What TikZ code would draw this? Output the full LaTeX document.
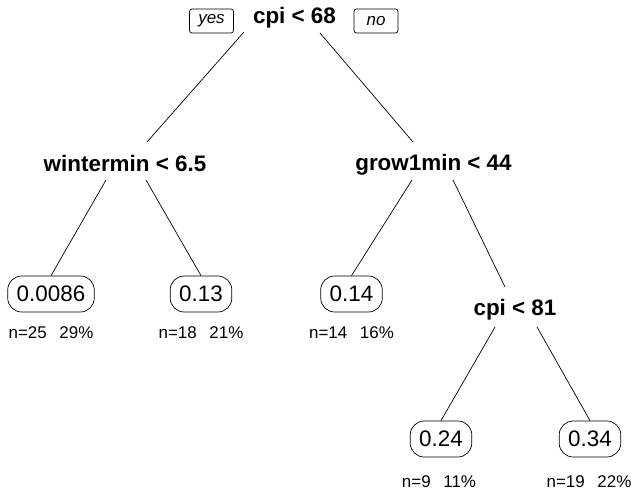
\documentclass[tikz,border=0pt]{standalone}
\usepackage{fontspec}
\setmainfont{Liberation Sans}
\usetikzlibrary{calc}

\begin{document}
\begin{tikzpicture}[x=1bp,y=-1bp,line width=0.7bp,
  split/.style={font=\fontsize{22.5}{24}\selectfont\bfseries,inner sep=0pt,anchor=base},
  leaf/.style={draw,rounded corners=14bp,font=\fontsize{22.5}{24}\selectfont,minimum height=36bp,inner xsep=9bp},
  info/.style={font=\fontsize{17}{20}\selectfont,inner sep=0pt,anchor=base},
  side/.style={draw,rounded corners=2.5bp,font=\fontsize{17}{20}\selectfont\itshape,minimum height=24bp,minimum width=44bp,inner sep=0pt}]
\useasboundingbox (0,0) rectangle (637,493);
% splits
\node[split] (root) at (294.5,24) {cpi < 68};
\node[side] (yes) at (211.5,21) {yes};
\node[side] (no) at (376,21) {no};
\node[split] (wmin) at (125,172) {wintermin < 6.5};
\node[split] (gmin) at (433.5,171) {grow1min < 44};
\node[split] (cpi81) at (515,315) {cpi < 81};
% leaves
\node[leaf] (l1) at (51,294) {0.0086};
\node[leaf] (l2) at (201,294) {0.13};
\node[leaf] (l3) at (351.5,294) {0.14};
\node[leaf] (l4) at (441,439) {0.24};
\node[leaf] (l5) at (590,439) {0.34};
\node[info] (n1) at (51,338) {n=25\hspace{0.75em}29\%};
\node[info] (n2) at (201,338) {n=18\hspace{0.75em}21\%};
\node[info] (n3) at (351.5,338) {n=14\hspace{0.75em}16\%};
\node[info] (n4) at (439,487) {n=9\hspace{0.75em}11\%};
\node[info] (n5) at (589,487) {n=19\hspace{0.75em}22\%};
% branches
\draw ($(root.base)+(-50.5,8)$) -- ($(wmin.base)+(22,-30)$);
\draw ($(root.base)+(25.5,9)$) -- ($(gmin.base)+(-20.5,-29)$);
\draw ($(wmin.base)+(-19,8)$) -- (l1.north);
\draw ($(wmin.base)+(21,8)$) -- (l2.north);
\draw ($(gmin.base)+(-21.5,9)$) -- (l3.north);
\draw ($(gmin.base)+(19.5,9)$) -- ($(cpi81.base)+(-10,-28)$);
\draw ($(cpi81.base)+(-20,12)$) -- (l4.north);
\draw ($(cpi81.base)+(22,12)$) -- (l5.north);
\end{tikzpicture}
\end{document}
